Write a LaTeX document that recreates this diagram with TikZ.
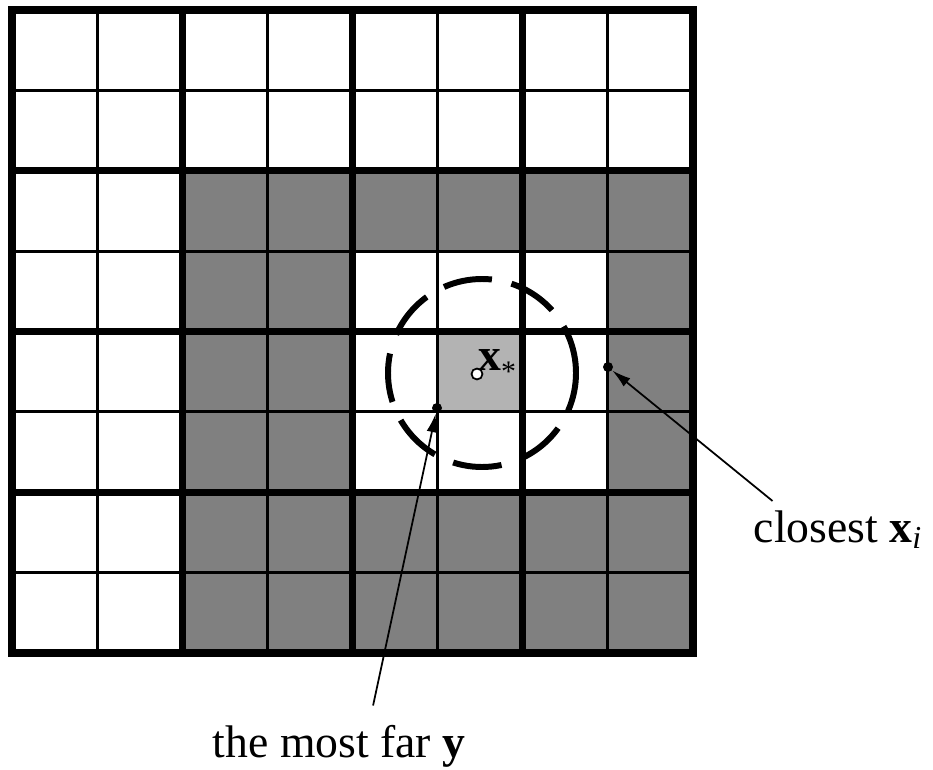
\documentclass[tikz,border=0pt]{standalone}
\usepackage{fontspec}
\setmainfont{Liberation Serif}
\usetikzlibrary{arrows.meta, positioning}
\definecolor{cdark}{HTML}{808080}
\definecolor{clight}{HTML}{B3B3B3}
\tikzset{
  every picture/.style={font=\fontsize{26}{31}\selectfont},
  thinline/.style={line width=1.7pt},
  thickline/.style={line width=4pt, line cap=rect},
  ring/.style={line width=3.4pt, dash pattern=on 0.98cm off 0.4cm, dash phase=0.2cm},
  dot/.style={circle, fill=black, inner sep=0pt, minimum size=0.2cm},
  hollow/.style={circle, draw=black, fill=white, line width=1pt, inner sep=0pt, minimum size=0.22cm},
  pointer/.style={-{Latex[length=0.38cm, width=0.21cm]}, line width=1pt},
  lbl/.style={inner sep=2pt, anchor=base west},
}

\begin{document}
\begin{tikzpicture}[x=0.02cm, y=-0.02cm]
  \useasboundingbox (0,0) rectangle (933,770);
  \def\cw{85.125}
  \def\ch{80.375}
  % shaded cells
  \fill[cdark] (12+2*\cw,10+2*\ch) rectangle (12+8*\cw,10+8*\ch);
  \fill[white] (12+4*\cw,10+3*\ch) rectangle (12+7*\cw,10+6*\ch);
  \fill[clight] (12+5*\cw,10+4*\ch) rectangle (12+6*\cw,10+5*\ch);
  % grid
  \foreach \i in {1,3,5,7} {
    \draw[thinline] (12+\i*\cw,10) -- (12+\i*\cw,653);
    \draw[thinline] (12,10+\i*\ch) -- (693,10+\i*\ch);
  }
  \foreach \i in {0,2,4,6,8} {
    \draw[thickline] (12+\i*\cw,10) -- (12+\i*\cw,653);
    \draw[thickline] (12,10+\i*\ch) -- (693,10+\i*\ch);
  }
  % search radius
  \draw[ring] (482,373) circle [radius=94];
  \node[lbl, inner sep=0pt] (xstarlbl) at (478,370)
    {\textbf{x}\raisebox{-6.5pt}{\fontsize{17}{17}\selectfont *}};
  \node[hollow] (xstar) at (477,374) {};
  \node[dot] (ydot) at (437,408) {};
  \node[dot] (xidot) at (608,367) {};
  % labels
  \node[lbl] (closest) at (750,542) {closest \textbf{x}\textsubscript{\textit{i}}};
  \node[lbl] (far) at (209,757) {the most far \textbf{y}};
  \draw[pointer] ([xshift=0.45cm, yshift=0.11cm]closest.north west) -- (xidot);
  \draw[pointer] ([xshift=0.68cm, yshift=0.31cm]far.north) -- (ydot);
\end{tikzpicture}
\end{document}
